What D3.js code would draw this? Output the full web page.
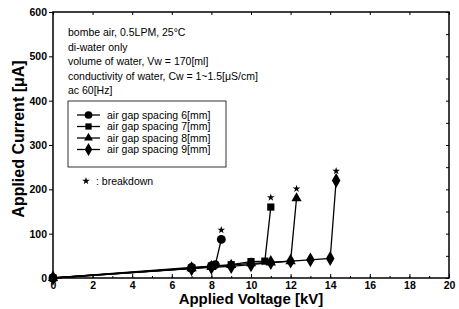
<!DOCTYPE html>
<html>
<head>
<meta charset="utf-8">
<script src="https://cdn.jsdelivr.net/npm/d3@7"></script>
<style>
  body { margin: 0; background: #fff; }
  text { font-family: Arial, "Liberation Sans", sans-serif; fill: #000; }
  .tick text { font-size: 10.5px; font-weight: bold; }
  .axis-title { font-size: 15px; font-weight: bold; }
  .note { font-size: 10.5px; }
</style>
</head>
<body>
<div id="chart"></div>
<script>
// data (voltage kV, current uA)
var series_names = ["air gap spacing 6[mm]", "air gap spacing 7[mm]", "air gap spacing 8[mm]", "air gap spacing 9[mm]"];
var gap6 = [[0, 0], [7, 24], [8, 27], [8.2, 30], [8.5, 87]];
var gap7 = [[0, 0], [7, 22], [8, 27], [9, 30], [10, 37], [10.7, 38], [11, 160]];
var gap8 = [[0, 0], [7, 22], [8, 25], [9, 29], [10, 33], [11, 35], [12, 38], [12.3, 180]];
var gap9 = [[0, 0], [7, 21], [8, 24], [9, 26], [10, 30], [11, 35], [12, 38], [13, 41], [14, 44], [14.3, 220]];
var x_ticks = [0, 2, 4, 6, 8, 10, 12, 14, 16, 18, 20];
var y_ticks = [0, 100, 200, 300, 400, 500, 600];
var notes = ["bombe air, 0.5LPM, 25\u00B0C", "di-water only", "volume of water, Vw = 170[ml]",
             "conductivity of water, Cw = 1~1.5[\u03BCS/cm]", "ac 60[Hz]"];

var margin = {top: 12, right: 10, bottom: 31, left: 53},
    width = 459 - margin.left - margin.right,
    height = 309 - margin.top - margin.bottom;

var svg = d3.select("#chart")
  .append("svg")
    .attr("width", width + margin.left + margin.right)
    .attr("height", height + margin.top + margin.bottom)
  .append("g")
    .attr("transform", "translate(" + margin.left + "," + margin.top + ")");

var x = d3.scaleLinear().domain([0, 20]).range([0, width]);
var y = d3.scaleLinear().domain([0, 600]).range([height, 0]);

// axes
svg.append("g")
  .attr("transform", "translate(0," + height + ")")
  .call(d3.axisBottom(x).tickValues(d3.range(0, 21, 1)).tickSize(-2).tickFormat(""));
svg.append("g")
  .attr("transform", "translate(0," + height + ")")
  .call(d3.axisBottom(x).tickValues(x_ticks).tickSize(-4).tickPadding(4));
svg.append("g")
  .call(d3.axisLeft(y).tickValues(y_ticks).tickSize(4).tickPadding(2));
svg.append("g")
  .attr("transform", "translate(" + width + ",0)")
  .call(d3.axisLeft(y).tickValues(d3.range(0, 601, 50)).tickSize(3).tickFormat(""));
svg.append("g")
  .call(d3.axisBottom(x).tickValues(x_ticks).tickSize(3).tickFormat(""));
svg.selectAll(".domain").remove();
svg.selectAll(".tick line").attr("stroke", "#000");

svg.append("rect")
  .attr("width", width).attr("height", height)
  .attr("fill", "none").attr("stroke", "#000").attr("stroke-width", 1.5);

// axis titles
svg.append("text")
  .attr("class", "axis-title")
  .attr("text-anchor", "middle")
  .attr("x", width / 2)
  .attr("y", height + 26)
  .text("Applied Voltage [kV]");
svg.append("text")
  .attr("class", "axis-title")
  .attr("text-anchor", "middle")
  .style("font-size", "16px")
  .attr("transform", "translate(-29," + (height / 2 - 6) + ") rotate(-90)")
  .text("Applied Current [\u03BCA]");

// lines and markers
var allSeries = [gap6, gap7, gap8, gap9];
var symbols = [d3.symbolCircle, d3.symbolSquare, d3.symbolTriangle, d3.symbolDiamond];
var sizes = [62, 52, 46, 64];

var line = d3.line()
  .x(function(d) { return x(d[0]); })
  .y(function(d) { return y(d[1]); });

allSeries.forEach(function(s, i) {
  svg.append("path")
    .attr("d", line(s))
    .attr("fill", "none")
    .attr("stroke", "#000")
    .attr("stroke-width", 1.3);
  svg.selectAll(".m" + i)
    .data(s)
    .enter()
    .append("path")
      .attr("d", d3.symbol().type(symbols[i]).size(sizes[i]))
      .attr("transform", function(d) { return "translate(" + x(d[0]) + "," + y(d[1]) + ")"; })
      .attr("fill", "#000");
  // breakdown star
  var last = s[s.length - 1];
  svg.append("path")
    .attr("d", d3.symbol().type(d3.symbolStar).size(18))
    .attr("transform", "translate(" + x(last[0]) + "," + (y(last[1]) - 9.5) + ")")
    .attr("fill", "#000");
});

// condition notes
notes.forEach(function(t, i) {
  svg.append("text")
    .attr("class", "note")
    .attr("x", 15)
    .attr("y", 24 + i * 14.5)
    .text(t);
});

// legend
svg.append("rect")
  .attr("x", 15).attr("y", 89)
  .attr("width", 158).attr("height", 66)
  .attr("fill", "#fff").attr("stroke", "#000").attr("stroke-width", 0.8);
series_names.forEach(function(n, i) {
  var ly = 103 + i * 11.5;
  svg.append("line")
    .attr("x1", 24).attr("x2", 47).attr("y1", ly).attr("y2", ly)
    .attr("stroke", "#000").attr("stroke-width", 1.3);
  svg.append("path")
    .attr("d", d3.symbol().type(symbols[i]).size(sizes[i] * 0.75))
    .attr("transform", "translate(35.5," + ly + ")")
    .attr("fill", "#000");
  svg.append("text")
    .attr("class", "note")
    .attr("x", 54).attr("y", ly + 3.5)
    .text(n);
});

svg.append("path")
  .attr("d", d3.symbol().type(d3.symbolStar).size(18))
  .attr("transform", "translate(33,169)")
  .attr("fill", "#000");
svg.append("text")
  .attr("class", "note")
  .attr("x", 43).attr("y", 172.5)
  .text(": breakdown");
</script>
</body>
</html>
